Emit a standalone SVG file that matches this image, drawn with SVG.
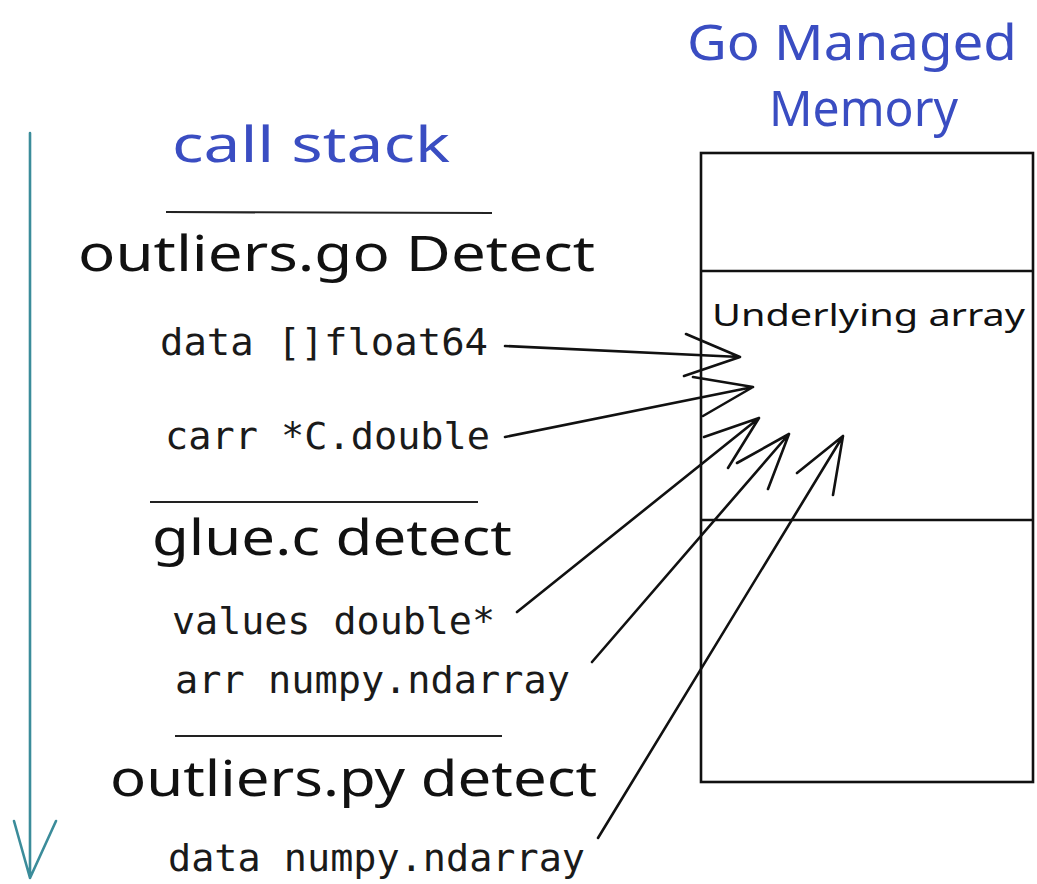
<svg xmlns="http://www.w3.org/2000/svg" width="1037" height="884" viewBox="0 0 1037 884">
<style>
.hand{font-family:"Noto Sans","Liberation Sans",sans-serif;fill:#111}
.blue{font-family:"Noto Sans","Liberation Sans",sans-serif;fill:#3a4dc2}
.mono{font-family:"DejaVu Sans Mono","Liberation Mono",monospace;font-size:38px;fill:#1a1a1a}
.ln{stroke:#111;stroke-width:2.6;fill:none;stroke-linecap:round;stroke-linejoin:round}
.rule{stroke:#222;stroke-width:2.2;fill:none}
</style>
<rect width="1037" height="884" fill="#fff"/>
<g id="time-arrow">
<path d="M30 133 L30 878 M14 821 L30 878 L56 821" stroke="#3b8c9a" stroke-width="2.6" fill="none" stroke-linecap="round" stroke-linejoin="round"/>
</g>
<g id="call-stack-title">
<text class="blue" x="172" y="162" font-size="50" textLength="278" lengthAdjust="spacingAndGlyphs">call stack</text>
</g>
<g id="memory-title">
<text class="blue" x="687" y="60" font-size="50" textLength="330" lengthAdjust="spacingAndGlyphs">Go Managed</text>
<text class="blue" x="769" y="126" font-size="50" textLength="189" lengthAdjust="spacingAndGlyphs">Memory</text>
</g>
<g id="frame-go">
<line class="rule" x1="166" y1="212" x2="492" y2="213"/>
<text class="hand" x="78" y="271" font-size="50" textLength="517" lengthAdjust="spacingAndGlyphs">outliers.go Detect</text>
<text class="mono" x="160" y="355" textLength="328" lengthAdjust="spacingAndGlyphs">data []float64</text>
<text class="mono" x="165" y="449" textLength="325" lengthAdjust="spacingAndGlyphs">carr *C.double</text>
</g>
<g id="frame-c">
<line class="rule" x1="150" y1="502" x2="478" y2="502"/>
<text class="hand" x="152" y="555" font-size="50" textLength="360" lengthAdjust="spacingAndGlyphs">glue.c detect</text>
<text class="mono" x="172" y="634" textLength="323" lengthAdjust="spacingAndGlyphs">values double*</text>
<text class="mono" x="175" y="693" textLength="395" lengthAdjust="spacingAndGlyphs">arr numpy.ndarray</text>
</g>
<g id="frame-py">
<line class="rule" x1="175" y1="736" x2="502" y2="736"/>
<text class="hand" x="110" y="796" font-size="50" textLength="487" lengthAdjust="spacingAndGlyphs">outliers.py detect</text>
<text class="mono" x="168" y="871" textLength="417" lengthAdjust="spacingAndGlyphs">data numpy.ndarray</text>
</g>
<g id="memory">
<rect x="701" y="153" width="332" height="629" fill="none" stroke="#111" stroke-width="2.6"/>
<line x1="701" y1="271" x2="1033" y2="271" stroke="#111" stroke-width="2.4"/>
<line x1="701" y1="520" x2="1033" y2="520" stroke="#111" stroke-width="2.4"/>
<text class="hand" x="712" y="326" font-size="31" textLength="313" lengthAdjust="spacingAndGlyphs">Underlying array</text>
</g>
<g id="connectors">
<path class="ln" d="M505 346 L740 357 M686 334 L740 357 L684 376"/>
<path class="ln" d="M505 437 L753 387 M693 377 L753 387 L703 416"/>
<path class="ln" d="M517 612 L759 418 M704 437 L759 418 L728 468"/>
<path class="ln" d="M592 662 L789 434 M737 463 L789 434 L768 489"/>
<path class="ln" d="M598 838 L843 436 M797 473 L843 436 L833 495"/>
</g>
</svg>
